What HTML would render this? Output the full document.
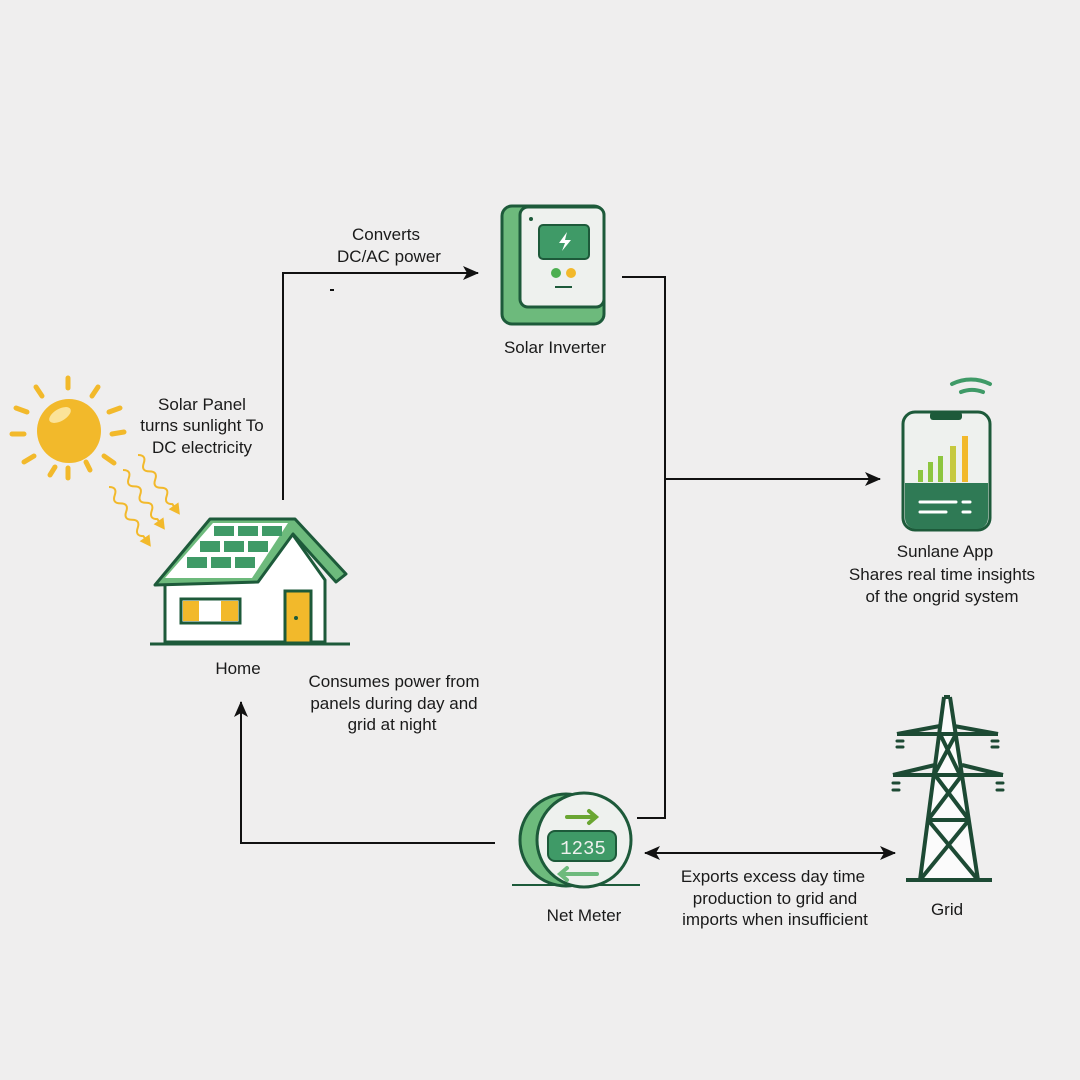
<!DOCTYPE html>
<html><head><style>
body{margin:0;background:#efeeee;}
svg{display:block}
text{font-family:"Liberation Sans",sans-serif;font-size:17px;fill:#1a1a1a;text-anchor:middle}
</style></head><body>
<svg width="1080" height="1080" viewBox="0 0 1080 1080">
<rect width="1080" height="1080" fill="#efeeee"/>
<defs>
<marker id="b" markerWidth="16" markerHeight="14" refX="15" refY="7" orient="auto-start-reverse" markerUnits="userSpaceOnUse"><path d="M0,0 L16,7 L0,14 L4,7z" fill="#111"/></marker>
<g id="wave"><path d="M0,0 q5,-7 10,0 t10,0 t10,0 t10,0 t10,0 t10,0 l4,0" fill="none" stroke="#f2b92b" stroke-width="2"/><path d="M62,-6 L73,0 L62,6z" fill="#f2b92b"/></g>
</defs>
<g fill="none" stroke="#111" stroke-width="2">
<path d="M283,500 V273 H478" marker-end="url(#b)"/>
<path d="M622,277 H665 V818 H637"/>
<path d="M665,479 H880" marker-end="url(#b)"/>
<path d="M495,843 H241 V702" marker-end="url(#b)"/>
<path d="M645,853 H895" marker-start="url(#b)" marker-end="url(#b)"/>
<path d="M330,290 h4"/>
</g>
<!-- sun -->
<g stroke="#f2b92b" stroke-width="5" stroke-linecap="round">
<line x1="68" y1="378" x2="68" y2="388"/><line x1="68" y1="468" x2="68" y2="478"/>
<line x1="12" y1="434" x2="24" y2="434"/><line x1="112" y1="434" x2="124" y2="432"/>
<line x1="36" y1="387" x2="42" y2="396"/><line x1="98" y1="387" x2="92" y2="396"/>
<line x1="16" y1="408" x2="27" y2="412"/><line x1="120" y1="408" x2="109" y2="412"/>
<line x1="24" y1="462" x2="34" y2="456"/><line x1="50" y1="475" x2="55" y2="467"/>
<line x1="90" y1="470" x2="86" y2="462"/><line x1="104" y1="456" x2="114" y2="463"/>
</g>
<circle cx="69" cy="431" r="32" fill="#f2b92b"/>
<ellipse cx="60" cy="415" rx="12" ry="6" fill="#fbe39a" transform="rotate(-30 60 415)"/>
<use href="#wave" transform="translate(138,455) rotate(55)"/>
<use href="#wave" transform="translate(123,470) rotate(55)"/>
<use href="#wave" transform="translate(109,487) rotate(55)"/>
<!-- house -->
<line x1="150" y1="644" x2="350" y2="644" stroke="#1d5a3a" stroke-width="3"/>
<path d="M165,582 L165,642 L325,642 L325,580 L293,535 Z" fill="#fff" stroke="#1d5a3a" stroke-width="3"/>
<path d="M155,585 L210,519 L295,519 L346,574 L336,582 L293,534 L258,582 Z" fill="#6dba7c" stroke="#1d5a3a" stroke-width="3" stroke-linejoin="round"/>
<path d="M165,578 L213,523 L288,523 L252,578 Z" fill="#fff"/>
<g fill="#3f9a67"><rect x="214" y="526" width="20" height="10"/><rect x="238" y="526" width="20" height="10"/><rect x="262" y="526" width="20" height="10"/>
<rect x="200" y="541" width="20" height="11"/><rect x="224" y="541" width="20" height="11"/><rect x="248" y="541" width="20" height="11"/>
<rect x="187" y="557" width="20" height="11"/><rect x="211" y="557" width="20" height="11"/><rect x="235" y="557" width="20" height="11"/></g>
<rect x="181" y="599" width="59" height="24" fill="#fff" stroke="#1d5a3a" stroke-width="3"/>
<rect x="183" y="601" width="16" height="20" fill="#f2b92b"/><rect x="221" y="601" width="17" height="20" fill="#f2b92b"/>
<rect x="285" y="591" width="26" height="52" fill="#f2b92b" stroke="#1d5a3a" stroke-width="3"/>
<circle cx="296" cy="618" r="2" fill="#1d5a3a"/>
<!-- inverter -->
<rect x="502" y="206" width="102" height="118" rx="10" fill="#6dba7c" stroke="#1d5a3a" stroke-width="3"/>
<rect x="520" y="207" width="84" height="100" rx="8" fill="#eef1ee" stroke="#1d5a3a" stroke-width="3"/>
<rect x="539" y="225" width="50" height="34" rx="4" fill="#3f9a67" stroke="#1d5a3a" stroke-width="2"/>
<path d="M567,232 l-8,11 h6 l-3,8 l9,-11 h-6z" fill="#fff"/>
<circle cx="556" cy="273" r="5" fill="#4caf50"/><circle cx="571" cy="273" r="5" fill="#f2b92b"/>
<line x1="555" y1="287" x2="572" y2="287" stroke="#1d5a3a" stroke-width="2"/>
<circle cx="531" cy="219" r="2" fill="#1d5a3a"/>
<!-- app -->
<path d="M983,392 a30,30 0 0 0 -22,0 M990,384 a42,42 0 0 0 -38,0" fill="none" stroke="#3f9a67" stroke-width="4" stroke-linecap="round"/>
<rect x="903" y="412" width="87" height="118" rx="12" fill="#eef1ee" stroke="#1d5a3a" stroke-width="3"/>
<path d="M905,483 H988 V518 a11,11 0 0 1 -11,11 H916 a11,11 0 0 1 -11,-11z" fill="#2f7a55"/>
<rect x="930" y="412" width="32" height="8" rx="3" fill="#1d5a3a"/>
<g fill="#8dc63f"><rect x="918" y="470" width="5" height="12"/><rect x="928" y="462" width="5" height="20"/><rect x="938" y="456" width="5" height="26"/></g>
<rect x="950" y="446" width="6" height="36" fill="#c6c93f"/><rect x="962" y="436" width="6" height="46" fill="#f2b92b"/>
<g stroke="#fff" stroke-width="3" stroke-linecap="round"><line x1="920" y1="502" x2="956" y2="502"/><line x1="920" y1="512" x2="946" y2="512"/><line x1="963" y1="502" x2="970" y2="502"/><line x1="963" y1="512" x2="970" y2="512"/></g>
<!-- meter -->
<line x1="512" y1="885" x2="640" y2="885" stroke="#1d5a3a" stroke-width="2"/>
<circle cx="566" cy="840" r="46" fill="#6dba7c" stroke="#1d5a3a" stroke-width="3"/>
<circle cx="584" cy="840" r="47" fill="#eef1ee" stroke="#1d5a3a" stroke-width="3"/>
<rect x="548" y="831" width="68" height="30" rx="7" fill="#3f9a67" stroke="#1d5a3a" stroke-width="2"/>
<text x="583" y="854" style="font-size:19px;fill:#eef1ee;font-family:'Liberation Mono',monospace">1235</text>
<path d="M567,817 H595 M589,811 l7,6 -7,6" fill="none" stroke="#6aa632" stroke-width="4" stroke-linecap="round"/>
<path d="M597,874 H561 M567,868 l-7,6 7,6" fill="none" stroke="#6dba7c" stroke-width="4" stroke-linecap="round"/>
<!-- tower -->
<path d="M944,697 L920,880 L978,880 L950,697z" fill="#fbfbfb"/>
<g fill="none" stroke="#1d4a34" stroke-width="4" stroke-linejoin="round">
<path d="M944,697 L920,880 M950,697 L978,880 M944,697 H950"/>
<path d="M897,734 L940,726 M954,726 L998,734 M897,734 H998"/>
<path d="M893,775 L935,765 M962,765 L1003,775 M893,775 H1003"/>
<path d="M928,820 H969 M906,880 H992"/>
<path d="M940,734 L960,775 M956,734 L934,775"/>
<path d="M935,775 L969,820 M962,775 L928,820"/>
<path d="M928,820 L978,880 M969,820 L920,880"/>
</g>
<g stroke="#1d4a34" stroke-width="3" stroke-linecap="round">
<path d="M897,741 h6 M897,747 h6 M992,741 h6 M992,747 h6"/>
<path d="M893,783 h6 M893,790 h6 M997,783 h6 M997,790 h6"/>
</g>
<!-- text -->
<text x="386" y="240">Converts</text>
<text x="389" y="262">DC/AC power</text>
<text x="555" y="353">Solar Inverter</text>
<text x="202" y="410">Solar Panel</text>
<text x="202" y="431">turns sunlight To</text>
<text x="202" y="453">DC electricity</text>
<text x="945" y="557">Sunlane App</text>
<text x="942" y="580">Shares real time insights</text>
<text x="942" y="602">of the ongrid system</text>
<text x="238" y="674">Home</text>
<text x="394" y="687">Consumes power from</text>
<text x="394" y="709">panels during day and</text>
<text x="392" y="730">grid at night</text>
<text x="584" y="921">Net Meter</text>
<text x="773" y="882">Exports excess day time</text>
<text x="775" y="904">production to grid and</text>
<text x="775" y="925">imports when insufficient</text>
<text x="947" y="915">Grid</text>
</svg>
</body></html>
